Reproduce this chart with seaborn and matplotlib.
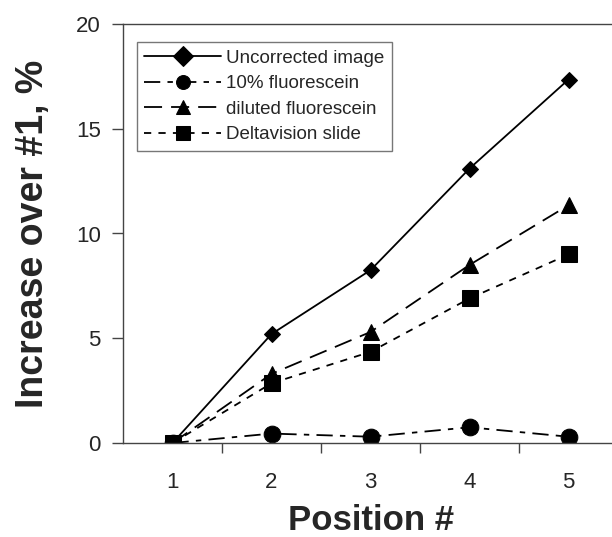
import matplotlib
matplotlib.use("Agg")
import matplotlib.pyplot as plt
import seaborn as sns
import pandas as pd

# values
positions = [1, 2, 3, 4, 5]
uncorrected = [0, 5.2, 8.25, 13.1, 17.35]
fluor_10 = [0, 0.45, 0.3, 0.75, 0.3]
diluted = [0, 3.3, 5.3, 8.5, 11.35]
deltavision = [0, 2.85, 4.35, 6.9, 9.0]

series_names = ["Uncorrected image", "10% fluorescein",
                "diluted fluorescein", "Deltavision slide"]
series_values = [uncorrected, fluor_10, diluted, deltavision]

rows = []
for name, vals in zip(series_names, series_values):
    for p, v in zip(positions, vals):
        rows.append({"position": p, "value": v, "series": name})
df = pd.DataFrame(rows)

sns.set_style("ticks")
plt.rcParams['font.family'] = ['Liberation Sans', 'DejaVu Sans']

styles = {
    "Uncorrected image": dict(marker="D", ls="-", ms=8.5),
    "10% fluorescein": dict(marker="o", ls=(0, (9, 4, 3, 4)), ms=12),
    "diluted fluorescein": dict(marker="^", ls=(0, (10, 5)), ms=12),
    "Deltavision slide": dict(marker="s", ls=(0, (4, 4)), ms=11),
}

fig = plt.figure(figsize=(6.12, 5.37), dpi=100)
ax = fig.add_axes([123 / 612, 94 / 537, 495 / 612, 419 / 537])

for name in series_names:
    st = styles[name]
    sns.lineplot(data=df[df["series"] == name], x="position", y="value",
                 ax=ax, color="black", lw=1.3, linestyle=st["ls"],
                 marker=st["marker"], markersize=st["ms"],
                 markeredgecolor="black", label=name)

ax.set_xlim(0.5, 5.5)
ax.set_ylim(0, 20)
ax.set_xticks(positions)
ax.set_xticks([1.5, 2.5, 3.5, 4.5, 5.5], minor=True)
ax.tick_params(axis="x", which="major", length=0, labelsize=16, pad=21)
ax.tick_params(axis="x", which="minor", length=7, width=1, direction="out",
               color="#444444")
ax.set_yticks([0, 5, 10, 15, 20])
ax.tick_params(axis="y", length=8, width=1, labelsize=16, pad=8,
               color="#444444")

for side in ["left", "bottom", "top"]:
    ax.spines[side].set_linewidth(1)
    ax.spines[side].set_color("#444444")
ax.spines["right"].set_visible(False)

ax.set_xlabel("Position #", fontsize=25, fontweight="bold", labelpad=8)
ax.set_ylabel("Increase over #1, %", fontsize=27, fontweight="bold",
              labelpad=18)

leg = ax.legend(loc="upper left", bbox_to_anchor=(0.028, 0.957),
                fontsize=13.5, handlelength=4.1, frameon=True, fancybox=False,
                borderpad=0.4, labelspacing=0.45, handletextpad=0.25,
                borderaxespad=0)
leg.get_frame().set_edgecolor("#555555")
leg.get_frame().set_linewidth(1)
for h in leg.legend_handles:
    h.set_markersize(10)

fig.savefig("out.png", dpi=100)
